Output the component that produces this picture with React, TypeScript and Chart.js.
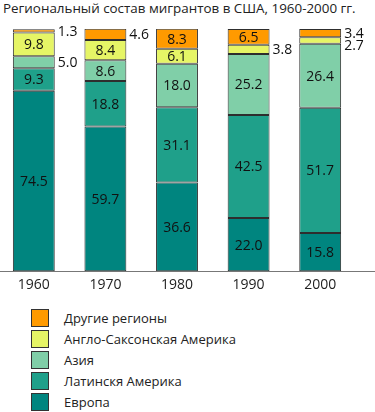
import React, { useEffect, useRef } from "react";
import { Chart, registerables } from "chart.js";

Chart.register(...registerables);

const years = ["1960", "1970", "1980", "1990", "2000"];
const europe = [74.5, 59.7, 36.6, 22.0, 15.8];
const latinAmerica = [9.3, 18.8, 31.1, 42.5, 51.7];
const asia = [5.0, 8.6, 18.0, 25.2, 26.4];
const angloAmerica = [9.8, 8.4, 6.1, 3.8, 2.7];
const otherRegions = [1.3, 4.6, 8.3, 6.5, 3.4];

const seriesNames = ["Европа", "Латинскя Америка", "Азия", "Англо-Саксонская Америка", "Другие регионы"];
const seriesColors = ["#00857f", "#1fa08a", "#80cfa8", "#e6f566", "#ff9a00"];
const titleText = "Региональный состав мигрантов в США, 1960-2000 гг.";
const FONT = "'Open Sans', 'DejaVu Sans', sans-serif";

const labelPlugin = {
  id: "barLabels",
  afterDatasetsDraw(chart: any) {
    const ctx = chart.ctx;
    ctx.save();
    ctx.font = `14px ${FONT}`;
    ctx.fillStyle = "#111";
    ctx.textBaseline = "middle";
    const n = chart.data.labels.length;
    for (let i = 0; i < n; i++) {
      const outside: { y: number; x: number; t: string }[] = [];
      chart.data.datasets.forEach((ds: any, di: number) => {
        const meta = chart.getDatasetMeta(di);
        const el = meta.data[i];
        const v = ds.data[i];
        const mid = (el.y + el.base) / 2;
        const txt = v.toFixed(1);
        if (v >= 6) {
          ctx.textAlign = "center";
          ctx.fillText(txt, el.x, mid + 1);
        } else {
          outside.push({ y: mid, x: el.x + el.width / 2 + 3, t: txt });
        }
      });
      outside.sort((a, b) => a.y - b.y);
      for (let k = 1; k < outside.length; k++) {
        if (outside[k].y - outside[k - 1].y < 12) outside[k].y = outside[k - 1].y + 12;
      }
      ctx.textAlign = "left";
      outside.forEach((o) => ctx.fillText(o.t, o.x, o.y + 1));
    }
    const yb = chart.scales.y.getPixelForValue(0);
    ctx.strokeStyle = "#777";
    ctx.lineWidth = 1;
    ctx.beginPath();
    ctx.moveTo(0, Math.round(yb) + 0.5);
    ctx.lineTo(chart.width, Math.round(yb) + 0.5);
    ctx.stroke();
    ctx.restore();
  },
};

export default function App() {
  const ref = useRef<HTMLCanvasElement>(null);
  useEffect(() => {
    const data = [europe, latinAmerica, asia, angloAmerica, otherRegions];
    const chart = new Chart(ref.current!, {
      type: "bar",
      data: {
        labels: years,
        datasets: data.map((d, i) => ({
          label: seriesNames[i],
          data: d,
          backgroundColor: seriesColors[i],
          borderColor: "#2e2e2e",
          borderWidth: 1,
          borderSkipped: false,
          categoryPercentage: 1,
          barPercentage: 0.585,
        })),
      },
      options: {
        animation: false,
        responsive: false,
        maintainAspectRatio: false,
        layout: { padding: { top: 29, left: 0, right: 19, bottom: 2 } },
        plugins: {
          legend: { display: false },
          tooltip: { enabled: false },
          title: { display: false },
        },
        scales: {
          x: {
            stacked: true,
            grid: { display: false, drawTicks: false },
            border: { display: false },
            ticks: { color: "#222", font: { family: FONT, size: 14 }, padding: 5 },
          },
          y: {
            stacked: true,
            display: false,
            min: 0,
            max: 100,
          },
        },
      },
      plugins: [labelPlugin],
    });
    return () => chart.destroy();
  }, []);

  const legendItems = [4, 3, 2, 1, 0];
  return (
    <div style={{ position: "absolute", left: 0, top: 0, width: 375, height: 412, background: "#fff", fontFamily: FONT, overflow: "hidden" }}>
      <div style={{ position: "absolute", left: 3, top: -1, fontSize: 13.4, color: "#222", whiteSpace: "nowrap", lineHeight: "18px" }}>{titleText}</div>
      <canvas ref={ref} width={377} height={300} style={{ position: "absolute", left: -2, top: 0, width: 377, height: 300 }} />
      {legendItems.map((i, k) => (
        <div key={i} style={{ position: "absolute", left: 31, top: 309 + k * 21, display: "flex", alignItems: "center", height: 18 }}>
          <div style={{ width: 16, height: 16, background: seriesColors[i], border: "1px solid #333" }} />
          <span style={{ marginLeft: 15, fontSize: 13, color: "#222", lineHeight: "18px", whiteSpace: "nowrap" }}>{seriesNames[i]}</span>
        </div>
      ))}
    </div>
  );
}
